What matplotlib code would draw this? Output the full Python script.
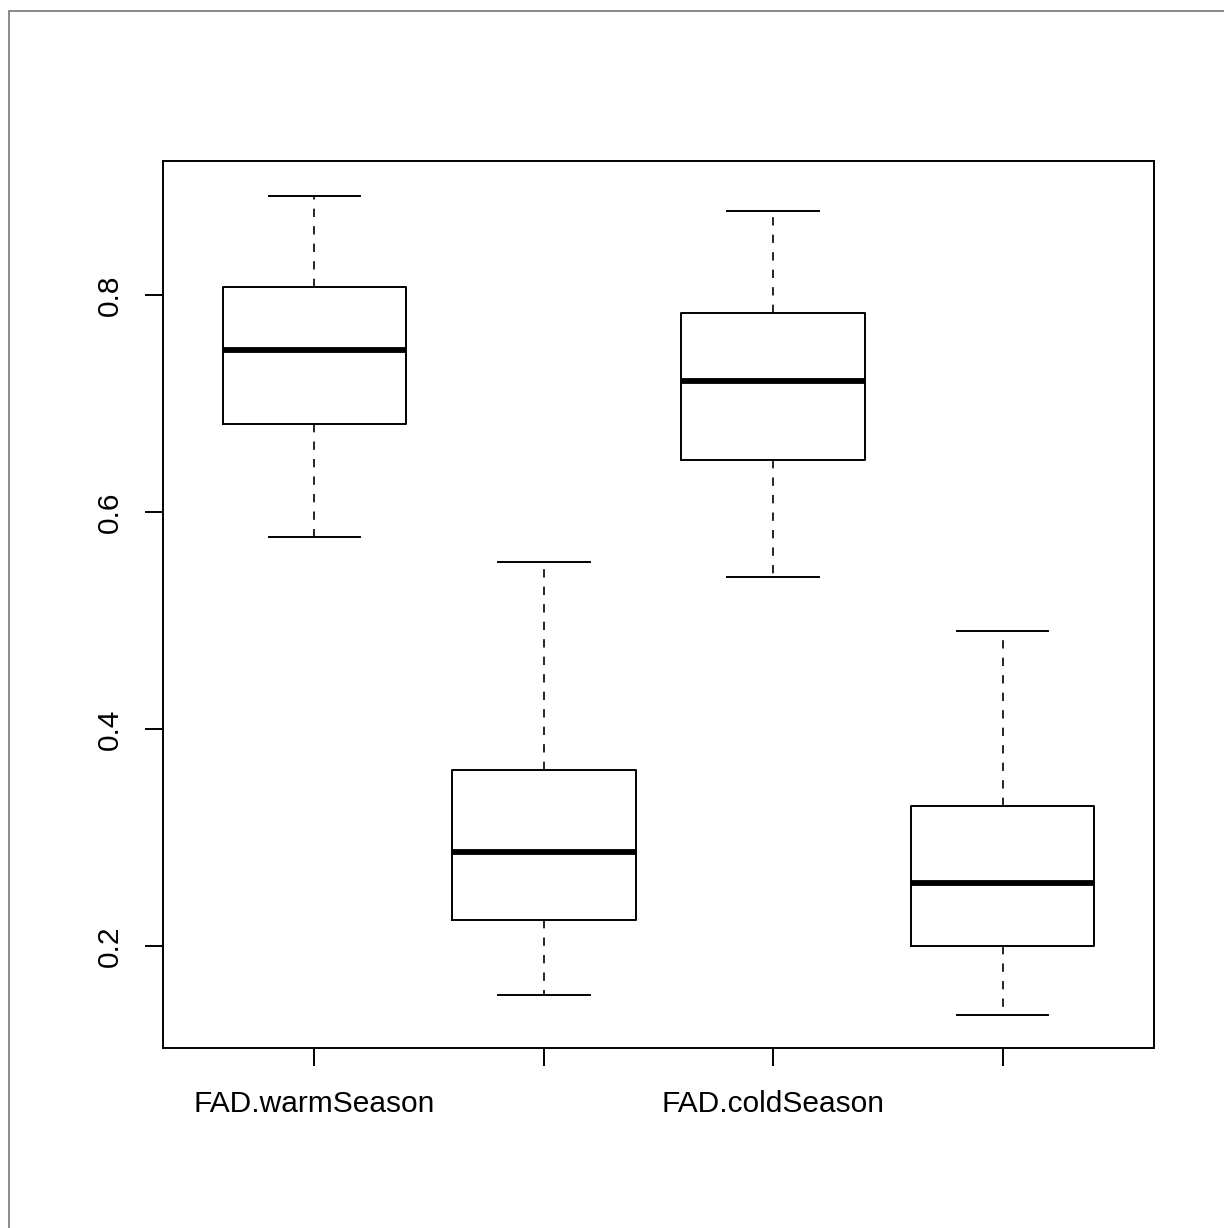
#!/usr/bin/env python3

import matplotlib
matplotlib.use('Agg')
import matplotlib.pyplot as plt
from matplotlib.patches import Rectangle

plt.rcParams['font.family'] = ['Liberation Sans', 'DejaVu Sans']

# Estatisticas de cada caixa
names = ['FAD.warmSeason', 'FAD.warmSeason.2', 'FAD.coldSeason', 'FAD.coldSeason.2']
tick_labels = ['FAD.warmSeason', '', 'FAD.coldSeason', '']
whislo = [0.577, 0.155, 0.540, 0.136]
q1     = [0.681, 0.224, 0.648, 0.200]
med    = [0.750, 0.287, 0.721, 0.258]
q3     = [0.808, 0.362, 0.784, 0.329]
whishi = [0.892, 0.554, 0.878, 0.491]

stats = [dict(label=n, whislo=a, q1=b, med=c, q3=d, whishi=e, fliers=[])
         for n, a, b, c, d, e in zip(names, whislo, q1, med, q3, whishi)]

fig = plt.figure(figsize=(12.24, 12.28), dpi=100)
ax = fig.add_axes([0.1332, 0.1466, 0.8096, 0.7223])

ax.bxp(stats, positions=[1, 2, 3, 4], widths=0.8, showfliers=False,
       boxprops=dict(color='black', linewidth=1.4),
       medianprops=dict(color='black', linewidth=4.2, solid_capstyle='butt'),
       whiskerprops=dict(color='black', linewidth=1.2, linestyle=(0, (5, 5.5))),
       capprops=dict(color='black', linewidth=1.4),
       capwidths=0.4)

ax.set_xlim(0.34, 4.66)
ax.set_ylim(0.106, 0.924)
ax.set_xticks([1, 2, 3, 4])
ax.set_xticklabels(tick_labels)
ax.set_yticks([0.2, 0.4, 0.6, 0.8])
ax.set_yticklabels(['0.2', '0.4', '0.6', '0.8'], rotation=90, va='center')

for s in ax.spines.values():
    s.set_linewidth(1.4)
ax.tick_params(axis='both', direction='out', length=13, width=1.4,
               labelsize=21.5, color='black')
ax.tick_params(axis='y', pad=15)
ax.tick_params(axis='x', pad=17)

# Borda cinza da figura
fig.add_artist(Rectangle((9/1224, -0.1), 1.2, 1 - 11/1228 + 0.1,
                         transform=fig.transFigure, fill=False,
                         edgecolor='#777777', linewidth=1.2))

fig.savefig('out.png', dpi=100, facecolor='white')
